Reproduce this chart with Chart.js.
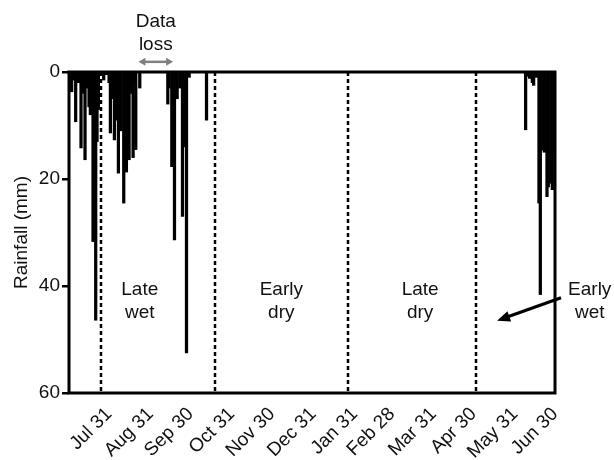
<!DOCTYPE html>
<html>
<head>
<meta charset="utf-8">
<script src="https://cdn.jsdelivr.net/npm/chart.js@4.4.1/dist/chart.umd.min.js"></script>
<style>
  html, body { margin: 0; padding: 0; background: #fff; }
</style>
</head>
<body>
<canvas id="rainChart" width="614" height="460"></canvas>
<script>
// days are counted from Jul 1 (day 0) to Jun 30 (day 364)
const rainDays = [1, 2, 4, 5, 7, 9, 10, 12, 13, 15, 16, 17, 18, 19, 20, 21, 22, 26, 28, 30,
    31, 33, 34, 35, 37, 38, 39, 41, 42, 43, 45, 46, 48, 49, 50, 53,
    74, 75, 77, 79, 81, 83, 85, 86, 88, 90, 103,
    342, 343, 345, 347, 348, 350, 352, 353, 355, 356, 358, 359, 361, 362, 363];
const rainMm = [2, 3.7, 1.5, 9.3, 2, 14.2, 4, 16.4, 3, 6.5, 8, 7, 31.7, 12, 46.4, 13, 7, 1.5, 0.5, 2,
    11.4, 5, 12.7, 9, 18.9, 7, 11, 24.5, 14, 18.7, 16.4, 4, 16, 2, 14.5, 3,
    6, 3, 17.7, 31.4, 5, 3, 27, 14, 52.5, 1, 9,
    10.8, 0.8, 1.2, 2, 2.5, 1, 24.5, 41.6, 14.6, 15, 23.3, 21.5, 20.8, 22, 15];

const tickDays = [30, 61, 91, 122, 152, 183, 214, 242, 273, 303, 334, 364];
const tickLabels = ['Jul 31', 'Aug 31', 'Sep 30', 'Oct 31', 'Nov 30', 'Dec 31',
    'Jan 31', 'Feb 28', 'Mar 31', 'Apr 30', 'May 31', 'Jun 30'];
const yTicks = [0, 20, 40, 60];

// season boundaries (dashed lines) and season names
const seasonBounds = [24, 109, 209, 305];
const seasonNames = [['Late', 'wet'], ['Early', 'dry'], ['Late', 'dry'], ['Early', 'wet']];
const dataLossDays = [52, 78];

const FONT = '"Liberation Sans", Arial, sans-serif';
const INK = '#111';

function drawHead(ctx, x1, y1, x2, y2, len, wid) {
    const a = Math.atan2(y2 - y1, x2 - x1);
    ctx.beginPath();
    ctx.moveTo(x2, y2);
    ctx.lineTo(x2 - len * Math.cos(a) + wid / 2 * Math.sin(a), y2 - len * Math.sin(a) - wid / 2 * Math.cos(a));
    ctx.lineTo(x2 - len * Math.cos(a) - wid / 2 * Math.sin(a), y2 - len * Math.sin(a) + wid / 2 * Math.cos(a));
    ctx.closePath();
    ctx.fill();
}

const decorPlugin = {
    id: 'rainDecor',
    afterDatasetsDraw(chart) {
        const ctx = chart.ctx;
        const area = chart.chartArea;
        const xs = chart.scales.x;
        ctx.save();
        // season dividers
        ctx.strokeStyle = '#000';
        ctx.lineWidth = 2.5;
        ctx.setLineDash([4, 3]);
        seasonBounds.forEach(d => {
            const px = Math.round(xs.getPixelForValue(d));
            ctx.beginPath();
            ctx.moveTo(px, area.top);
            ctx.lineTo(px, area.bottom);
            ctx.stroke();
        });
        ctx.setLineDash([]);
        // frame
        ctx.lineWidth = 3;
        ctx.strokeRect(area.left, area.top, area.right - area.left, area.bottom - area.top);
        ctx.restore();
    },
    afterDraw(chart) {
        const ctx = chart.ctx;
        const xs = chart.scales.x;
        const ys = chart.scales.y;
        ctx.save();
        ctx.font = '19px ' + FONT;
        ctx.fillStyle = INK;
        ctx.textAlign = 'center';
        ctx.textBaseline = 'alphabetic';

        // season labels
        const labelDays = [53, 159, 263, 390];
        seasonNames.forEach((lines, i) => {
            const px = xs.getPixelForValue(labelDays[i]);
            ctx.fillText(lines[0], px, ys.getPixelForValue(41.6));
            ctx.fillText(lines[1], px, ys.getPixelForValue(45.9));
        });

        // arrow for Early wet
        const ax1 = xs.getPixelForValue(368.5), ay1 = ys.getPixelForValue(42.2);
        const ax2 = xs.getPixelForValue(320.6), ay2 = ys.getPixelForValue(46.5);
        ctx.strokeStyle = '#000';
        ctx.fillStyle = '#000';
        ctx.lineWidth = 3;
        ctx.beginPath();
        ctx.moveTo(ax1, ay1);
        ctx.lineTo(ax2 + 8, ay2 - 3);
        ctx.stroke();
        drawHead(ctx, ax1, ay1, ax2, ay2, 13, 11);

        // data loss marker
        ctx.fillStyle = INK;
        const lx1 = xs.getPixelForValue(dataLossDays[0]);
        const lx2 = xs.getPixelForValue(dataLossDays[1]);
        const mid = (lx1 + lx2) / 2;
        ctx.fillText('Data', mid, ys.getPixelForValue(-8.4));
        ctx.fillText('loss', mid, ys.getPixelForValue(-4.1));
        const ly = ys.getPixelForValue(-1.9);
        ctx.strokeStyle = '#808080';
        ctx.fillStyle = '#808080';
        ctx.lineWidth = 2.5;
        ctx.beginPath();
        ctx.moveTo(lx1 + 5, ly);
        ctx.lineTo(lx2 - 5, ly);
        ctx.stroke();
        drawHead(ctx, lx2, ly, lx1, ly, 7, 8);
        drawHead(ctx, lx1, ly, lx2, ly, 7, 8);
        ctx.restore();
    }
};

const ctx = document.getElementById('rainChart').getContext('2d');
new Chart(ctx, {
    type: 'bar',
    data: {
        datasets: [{
            label: 'Rainfall',
            data: rainDays.map((d, i) => ({ x: d, y: rainMm[i] })),
            backgroundColor: '#000',
            borderWidth: 0,
            barThickness: 2.6
        }]
    },
    options: {
        responsive: false,
        animation: false,
        layout: { padding: { left: 0, right: 59, top: 72, bottom: 0 } },
        plugins: {
            legend: { display: false },
            tooltip: { enabled: false }
        },
        scales: {
            x: {
                type: 'linear',
                offset: false,
                min: 0,
                max: 364,
                grid: { display: false },
                border: { display: false },
                afterBuildTicks: (scale) => {
                    scale.ticks = tickDays.map(v => ({ value: v }));
                },
                afterFit: (scale) => { scale.height = 67; },
                ticks: {
                    autoSkip: false,
                    minRotation: 45,
                    maxRotation: 45,
                    padding: 2,
                    color: INK,
                    font: { family: FONT, size: 19 },
                    callback: (value, index) => tickLabels[index]
                }
            },
            y: {
                reverse: true,
                min: 0,
                max: 60,
                afterBuildTicks: (scale) => {
                    scale.ticks = yTicks.map(v => ({ value: v }));
                },
                afterFit: (scale) => { scale.width = 69; },
                grid: {
                    drawOnChartArea: false,
                    drawTicks: true,
                    tickLength: 7,
                    lineWidth: 2.5,
                    color: '#000'
                },
                border: { display: false },
                ticks: {
                    padding: 2,
                    color: INK,
                    font: { family: FONT, size: 19 }
                },
                title: {
                    display: true,
                    text: 'Rainfall (mm)',
                    color: INK,
                    font: { family: FONT, size: 19 },
                    padding: { top: 10, bottom: 0 }
                }
            }
        }
    },
    plugins: [decorPlugin]
});
</script>
</body>
</html>
